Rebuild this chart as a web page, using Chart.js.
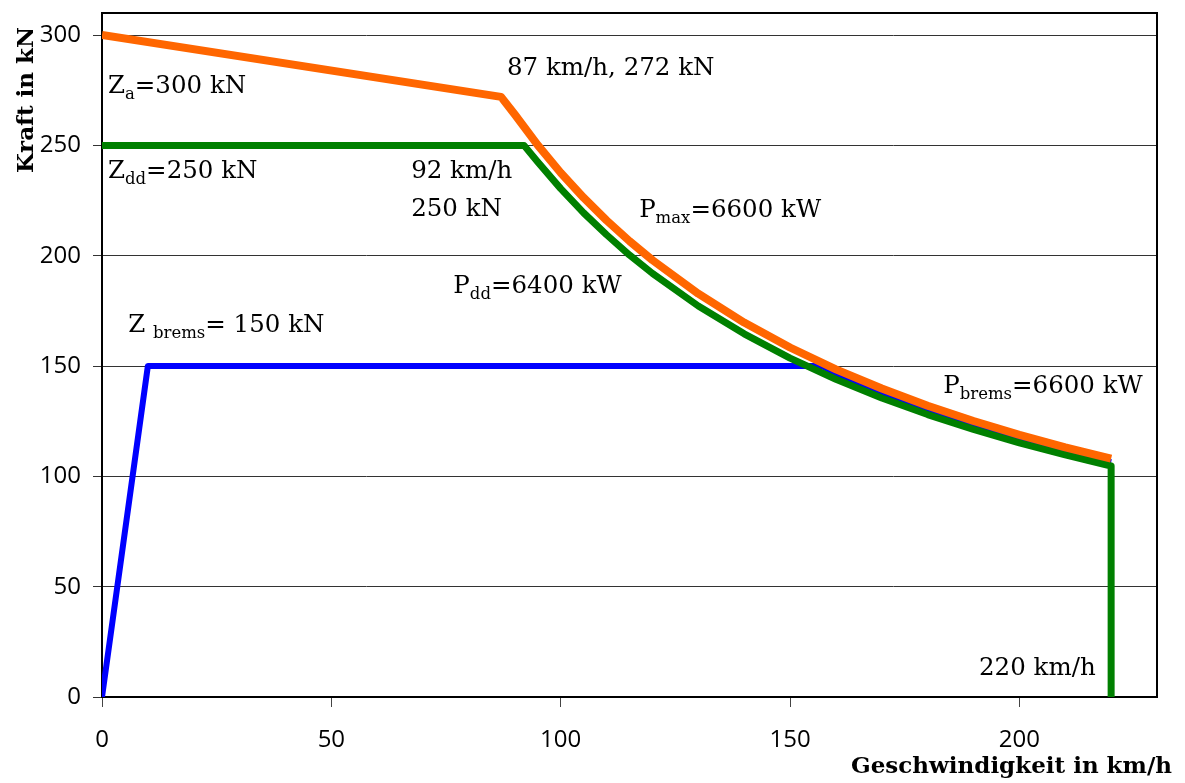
<!DOCTYPE html>
<html>
<head>
<meta charset="utf-8">
<script src="https://cdn.jsdelivr.net/npm/chart.js@4.4.0/dist/chart.umd.min.js"></script>
<style>
  html, body { margin: 0; padding: 0; background: #fff; }
</style>
</head>
<body>
<canvas id="kraftChart" width="1185" height="783"></canvas>
<script>
// Zugkraft: Anfahrzugkraft, dann P = 6600 kW
var zugV = [0, 87, 90, 95, 100, 105, 110, 115, 120, 130, 140, 150, 160, 170, 180, 190, 200, 210, 220];
var zugF = [300, 272, 264, 250.1, 237.6, 226.3, 216, 206.6, 198, 182.8, 169.7, 158.4, 148.5, 139.8, 132, 125.1, 118.8, 113.1, 108];

// Dauerzugkraft, dann P = 6400 kW
var dauerV = [0, 92, 95, 100, 105, 110, 115, 120, 130, 140, 150, 160, 170, 180, 190, 200, 210, 220, 220];
var dauerF = [250, 250, 242.5, 230.4, 219.4, 209.5, 200.3, 192, 177.2, 164.6, 153.6, 144, 135.5, 128, 121.3, 115.2, 109.7, 104.7, 0];

// Bremskraft
var bremsV = [0, 10, 157, 160, 170, 180, 190, 200, 210, 220];
var bremsF = [0, 150, 150, 146.7, 138.1, 130.3, 123.4, 117.1, 111.4, 106.4];

var xTicks = [0, 50, 100, 150, 200];
var yTicks = [0, 50, 100, 150, 200, 250, 300];

function pts(xs, ys) {
  return xs.map(function (x, i) { return { x: x, y: ys[i] }; });
}

// Beschriftungen im Diagramm (Position in Datenkoordinaten)
var notes = [
  { x: 1.3, y: 273.7, parts: [['Z'], ['a', 1], ['=300 kN']] },
  { x: 1.3, y: 235.2, parts: [['Z'], ['dd', 1], ['=250 kN']] },
  { x: 88.3, y: 281.9, parts: [['87 km/h, 272 kN']] },
  { x: 67.4, y: 235.2, parts: [['92 km/h']] },
  { x: 67.4, y: 218.0, parts: [['250 kN']] },
  { x: 117.1, y: 217.5, parts: [['P'], ['max', 1], ['=6600 kW']] },
  { x: 76.6, y: 183.1, parts: [['P'], ['dd', 1], ['=6400 kW']] },
  { x: 5.7, y: 165.4, parts: [['Z '], ['brems', 1], ['= 150 kN']] },
  { x: 183.4, y: 137.8, parts: [['P'], ['brems', 1], ['=6600 kW']] },
  { x: 191.2, y: 9.9, parts: [['220 km/h']] }
];

var serif = '"DejaVu Serif", "Liberation Serif", serif';
var sans = '"Open Sans", "Noto Sans", sans-serif';

function noPadding(s) {
  s.paddingTop = 0;
  s.paddingBottom = 0;
  s.paddingLeft = 0;
  s.paddingRight = 0;
}

var notesPlugin = {
  id: 'notes',
  afterDraw: function (chart) {
    var ctx = chart.ctx;
    var sx = chart.scales.x, sy = chart.scales.y;
    var a = chart.chartArea;
    ctx.save();
    // Rahmen oben und rechts
    ctx.strokeStyle = '#000';
    ctx.lineWidth = 2;
    ctx.beginPath();
    ctx.moveTo(a.left, a.top);
    ctx.lineTo(a.right, a.top);
    ctx.lineTo(a.right, a.bottom);
    ctx.stroke();

    ctx.fillStyle = '#000';
    ctx.textBaseline = 'alphabetic';
    ctx.textAlign = 'left';
    notes.forEach(function (n) {
      var px = sx.getPixelForValue(n.x);
      var py = sy.getPixelForValue(n.y);
      n.parts.forEach(function (p) {
        var sub = p[1] === 1;
        ctx.font = (sub ? '16.5px ' : '24.5px ') + serif;
        ctx.fillText(p[0], px, py + (sub ? 6 : 0));
        px += ctx.measureText(p[0]).width;
      });
    });

    // Achsentitel
    ctx.font = 'bold 23px ' + serif;
    ctx.textAlign = 'right';
    ctx.fillText('Geschwindigkeit in km/h', 1172, 773);
    ctx.translate(33, 27);
    ctx.rotate(-Math.PI / 2);
    ctx.textAlign = 'right';
    ctx.fillText('Kraft in kN', 0, 0);
    ctx.restore();
  }
};

var config = {
  type: 'line',
  data: {
    datasets: [{
      label: 'Zugkraft',
      data: pts(zugV, zugF),
      borderColor: '#FF6600',
      borderWidth: 8,
      order: 0
    }, {
      label: 'Dauerzugkraft',
      data: pts(dauerV, dauerF),
      borderColor: '#008000',
      borderWidth: 7,
      order: 1
    }, {
      label: 'Bremskraft',
      data: pts(bremsV, bremsF),
      borderColor: '#0000FF',
      borderWidth: 6,
      order: 2
    }]
  },
  options: {
    responsive: false,
    animation: false,
    layout: { padding: { top: 13, right: 28, left: 0, bottom: 0 } },
    elements: {
      point: { radius: 0 },
      line: { tension: 0, borderJoinStyle: 'round', fill: false }
    },
    plugins: {
      legend: { display: false },
      tooltip: { enabled: false }
    },
    scales: {
      x: {
        type: 'linear',
        min: 0,
        max: 230,
        afterBuildTicks: function (s) { s.ticks = xTicks.map(function (v) { return { value: v }; }); },
        afterFit: function (s) { s.height = 86; noPadding(s); },
        grid: { drawOnChartArea: false, drawTicks: true, tickLength: 10, color: '#444', lineWidth: 1 },
        border: { color: '#000', width: 2 },
        ticks: { color: '#000', font: { family: sans, size: 24 }, padding: 19, maxRotation: 0 }
      },
      y: {
        min: 0,
        max: 310,
        afterBuildTicks: function (s) { s.ticks = yTicks.map(function (v) { return { value: v }; }); },
        afterFit: function (s) { s.width = 102; noPadding(s); },
        grid: { drawTicks: true, tickLength: 9, color: '#333', lineWidth: 1 },
        border: { color: '#000', width: 2 },
        ticks: { color: '#000', font: { family: sans, size: 24 }, padding: 12 }
      }
    }
  },
  plugins: [notesPlugin]
};

var kraftChart = new Chart(document.getElementById('kraftChart'), config);
</script>
</body>
</html>
